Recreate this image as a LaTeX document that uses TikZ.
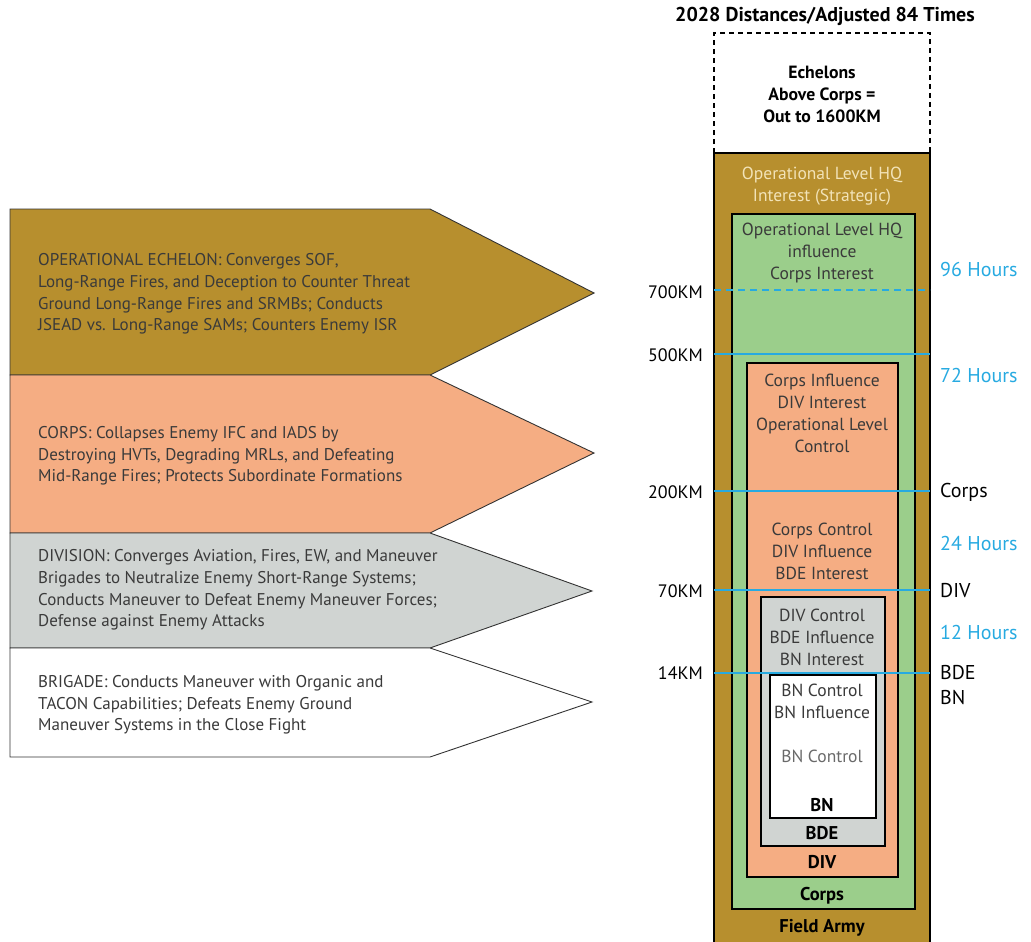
\documentclass[tikz,border=0pt]{standalone}
\usepackage{fontspec}
\setmainfont{PT Sans}
\definecolor{brownA}{HTML}{B78F2E}
\definecolor{orangeA}{HTML}{F5AD83}
\definecolor{greenA}{HTML}{9BCE8B}
\definecolor{greyA}{HTML}{D0D4D2}
\definecolor{blueA}{HTML}{27AAE1}
\definecolor{txt}{HTML}{3A3A3A}
\definecolor{beige}{HTML}{F2E3B8}
\definecolor{ltxt}{HTML}{6A6A6A}
\begin{document}
\begin{tikzpicture}[x=1pt,y=-1pt,
  box/.style={draw=black,line width=1.8pt},
  arrowshape/.style={draw=black!80,line width=0.9pt,line join=miter},
  lefttext/.style={anchor=west,align=left,inner sep=0pt,text=txt,font=\fontsize{17}{21.6}\selectfont},
  intext/.style={align=center,inner sep=0pt,text=txt,font=\fontsize{17.5}{22}\selectfont},
  boldlbl/.style={inner sep=0pt,font=\fontsize{18.5}{22}\selectfont\bfseries},
  km/.style={anchor=east,inner sep=0pt,font=\fontsize{18}{20}\selectfont},
  hr/.style={anchor=west,inner sep=0pt,font=\fontsize{20}{22}\selectfont},
  hrs/.style={hr,text=blueA},
  bl/.style={draw=blueA,line width=1.6pt}]
\useasboundingbox (0,0) rectangle (1031,942);

% ---------- left arrows ----------
\path[arrowshape,fill=brownA] (10,209) -- (430,209) -- (594,293) -- (430,375) -- (10,375) -- cycle;
\path[arrowshape,fill=orangeA] (10,375) -- (430,375) -- (594,453) -- (430,533) -- (10,533) -- cycle;
\path[arrowshape,fill=greyA] (10,533) -- (430,533) -- (592,591) -- (430,648) -- (10,648) -- cycle;
\path[arrowshape,fill=white] (10,648) -- (430,648) -- (592,702) -- (430,757) -- (10,757) -- cycle;

\node[lefttext] (opt) at (38,294) {OPERATIONAL ECHELON: Converges SOF,\\Long-Range Fires, and Deception to Counter Threat\\Ground Long-Range Fires and SRMBs; Conducts\\JSEAD vs. Long-Range SAMs; Counters Enemy ISR};
\node[lefttext] (cpt) at (38,456) {CORPS: Collapses Enemy IFC and IADS by\\Destroying HVTs, Degrading MRLs, and Defeating\\Mid-Range Fires; Protects Subordinate Formations};
\node[lefttext] (dvt) at (38,590) {DIVISION: Converges Aviation, Fires, EW, and Maneuver\\Brigades to Neutralize Enemy Short-Range Systems;\\Conducts Maneuver to Defeat Enemy Maneuver Forces;\\Defense against Enemy Attacks};
\node[lefttext] (bgt) at (38,705) {BRIGADE: Conducts Maneuver with Organic and\\TACON Capabilities; Defeats Enemy Ground\\Maneuver Systems in the Close Fight};

% ---------- right column ----------
\node[inner sep=0pt,font=\fontsize{20}{22}\selectfont\bfseries] (title) at (825,16) {2028 Distances/Adjusted 84 Times};
\draw[black,line width=1.5pt,dash pattern=on 5pt off 4pt] (714,153) -- (714,33) -- (930,33) -- (930,153);
\node[align=center,inner sep=0pt,font=\fontsize{17.7}{22}\selectfont\bfseries] (eac) at (822,94) {Echelons\\Above Corps =\\Out to 1600KM};

\path[box,fill=brownA] (714,153) rectangle (930,946);
\path[box,fill=greenA] (732,214) rectangle (915,909);
\path[box,fill=orangeA] (747,363) rectangle (898,877);
\path[box,fill=greyA] (761,597) rectangle (885,846);
\path[box,fill=white] (770,675) rectangle (876,818);

\node[intext,text=beige] (opi) at (822,186) {Operational Level HQ\\Interest (Strategic)};
\node[intext] (gre) at (822,253) {Operational Level HQ\\influence\\Corps Interest};
\node[intext] (or1) at (822,413) {Corps Influence\\DIV Interest\\Operational Level\\Control};
\node[intext] (or2) at (822,551) {Corps Control\\DIV Influence\\BDE Interest};
\node[intext] (gr1) at (822,637) {DIV Control\\BDE Influence\\BN Interest};
\node[intext] (wh1) at (822,701) {BN Control\\BN Influence};
\node[intext,text=ltxt] (wh2) at (822,756) {BN Control};
\node[boldlbl] (lbn) at (822,805) {BN};
\node[boldlbl] (lbde) at (822,833) {BDE};
\node[boldlbl] (ldiv) at (822,862) {DIV};
\node[boldlbl] (lcorps) at (822,896) {Corps};
\node[boldlbl] (lfa) at (822,928) {Field Army};

% ---------- range lines ----------
\coordinate (l700a) at (714,290); \coordinate (l700b) at (930,290);
\coordinate (l500a) at (714,354); \coordinate (l500b) at (930,354);
\coordinate (l200a) at (714,491); \coordinate (l200b) at (930,491);
\coordinate (l70a) at (714,590); \coordinate (l70b) at (930,590);
\coordinate (l14a) at (714,673); \coordinate (l14b) at (930,673);
\draw[bl,dash pattern=on 7pt off 5pt] (l700a) -- (l700b);
\draw[bl] (l500a) -- (l500b);
\draw[bl] (l200a) -- (l200b);
\draw[bl] (l70a) -- (l70b);
\draw[bl] (l14a) -- (l14b);

\node[km] (k700) at (703,292) {700KM};
\node[km] (k500) at (703,355) {500KM};
\node[km] (k200) at (703,492) {200KM};
\node[km] (k70) at (703,591) {70KM};
\node[km] (k14) at (703,673) {14KM};

\node[hrs] (h96) at (940,269) {96 Hours};
\node[hrs] (h72) at (940,375) {72 Hours};
\node[hr] (rc) at (940,492) {Corps};
\node[hrs] (h24) at (940,543) {24 Hours};
\node[hr] (rd) at (940,591) {DIV};
\node[hrs] (h12) at (940,632) {12 Hours};
\node[hr] (rb) at (940,673) {BDE};
\node[hr] (rbn) at (940,697) {BN};
\end{tikzpicture}
\end{document}
